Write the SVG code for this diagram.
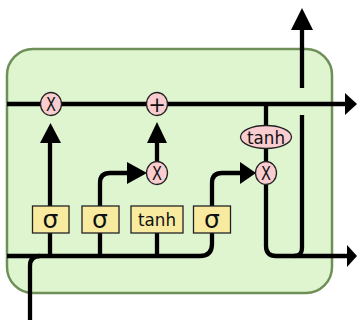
<svg xmlns="http://www.w3.org/2000/svg" width="357" height="320" viewBox="0 0 357 320">
<defs>
<style>
.cell{fill:#dff5d0;stroke:#6e8f57;stroke-width:2.5}
.ln{fill:none;stroke:#000;stroke-width:4.3}
.ah{fill:#000}
.op{fill:#f9cdd0;stroke:#222;stroke-width:1.3}
.gate{fill:#f8eba0;stroke:#222;stroke-width:1.3}
.t{font-family:"DejaVu Sans",sans-serif;fill:#111;text-anchor:middle}
.x{font-size:19px}
.pl{font-size:21px}
.sg{font-size:25px}
.th{font-size:18.5px}
</style>
</defs>
<rect class="cell" x="7" y="49" width="325" height="244" rx="26" ry="26"/>
<g id="connectors">
<path class="ln" d="M7 104 H346"/>
<path class="ah" d="M345 93 L357 104 L345 115 Z"/>
<path class="ln" d="M7 256 H200 Q212 256 212 244 V233"/>
<path class="ln" d="M30 320 V266 Q30 256 40 256"/>
<path class="ln" d="M50 206 V142"/>
<path class="ah" d="M40 143 L50.5 123 L61 143 Z"/>
<path class="ln" d="M50 256 V233"/>
<path class="ln" d="M100 256 V233"/>
<path class="ln" d="M157 256 V233"/>
<path class="ln" d="M100 206 V183 Q100 173 110 173 H129"/>
<path class="ah" d="M127 162 L147 173 L127 184 Z"/>
<path class="ln" d="M157 162 V142"/>
<path class="ah" d="M147 143 L157 122 L167 143 Z"/>
<path class="ln" d="M212 206 V183 Q212 173 222 173 H242"/>
<path class="ah" d="M240 162 L256 173 L240 184 Z"/>
<path class="ln" d="M266 104 V162"/>
<path class="ln" d="M266 184 V246 Q266 256 276 256 H348"/>
<path class="ah" d="M347 245 L357 256 L347 267 Z"/>
<path class="ln" d="M302 115 V248 Q302 256 294 256"/>
<path class="ln" d="M302 88 V28"/>
<path class="ah" d="M291 30 L302 8 L313 30 Z"/>
</g>
<g id="forget-mult"><ellipse class="op" cx="51" cy="104" rx="10.5" ry="11.5"/><text class="t x" x="51" y="111" textLength="10" lengthAdjust="spacingAndGlyphs">X</text></g>
<g id="add"><ellipse class="op" cx="157" cy="104" rx="10.5" ry="11.5"/><text class="t pl" x="157" y="111.5">+</text></g>
<g id="input-mult"><ellipse class="op" cx="157" cy="173" rx="10.5" ry="11.5"/><text class="t x" x="157" y="180" textLength="10" lengthAdjust="spacingAndGlyphs">X</text></g>
<g id="output-mult"><ellipse class="op" cx="266" cy="173" rx="10.5" ry="11.5"/><text class="t x" x="266" y="180" textLength="10" lengthAdjust="spacingAndGlyphs">X</text></g>
<g id="tanh-op"><ellipse class="op" cx="266" cy="137" rx="25.5" ry="11.5"/><text class="t th" x="266" y="143.5" textLength="38" lengthAdjust="spacingAndGlyphs">tanh</text></g>
<g id="gate-forget"><rect class="gate" x="32.5" y="206" width="36.5" height="27"/><text class="t sg" x="50.5" y="227.5">σ</text></g>
<g id="gate-input"><rect class="gate" x="82" y="206" width="37" height="27"/><text class="t sg" x="100" y="227.5">σ</text></g>
<g id="gate-tanh"><rect class="gate" x="131" y="206" width="52" height="27"/><text class="t th" x="157" y="226" textLength="38" lengthAdjust="spacingAndGlyphs">tanh</text></g>
<g id="gate-output"><rect class="gate" x="193.5" y="206" width="37" height="27"/><text class="t sg" x="212" y="227.5">σ</text></g>
</svg>
